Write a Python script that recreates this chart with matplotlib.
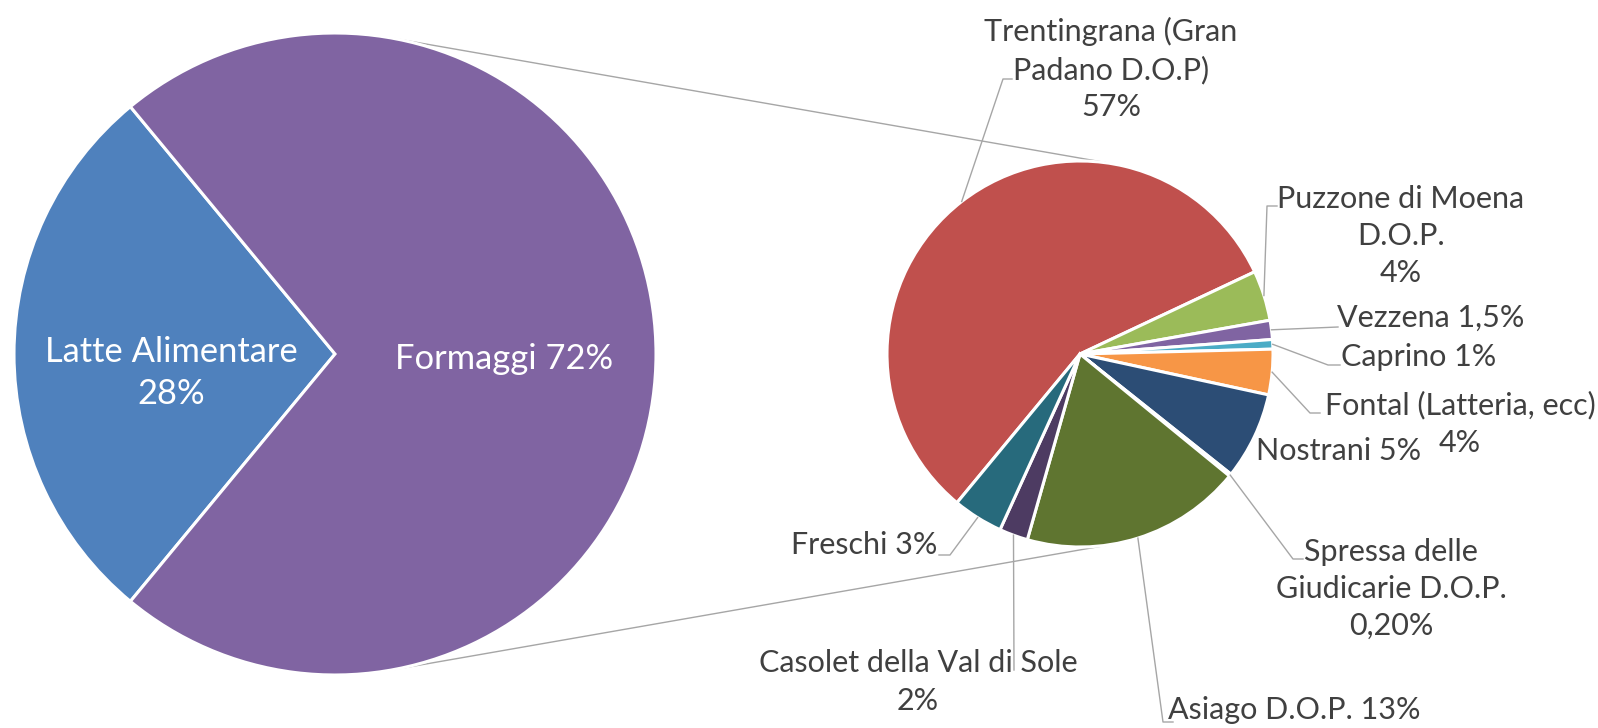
import matplotlib.pyplot as plt
import numpy as np

plt.rcParams['font.family'] = ['Lato', 'DejaVu Sans']

W, H = 1598, 728

# main pie
main_labels = ['Latte Alimentare\n28%', 'Formaggi 72%']
main_values = [28, 72]
main_colors = ['#4F81BD', '#8064A2']

# secondary pie (split of "Formaggi")
sub_labels = ['Trentingrana (Gran\nPadano D.O.P)\n57%',
              'Puzzone di Moena\nD.O.P.\n4%',
              'Vezzena 1,5%',
              'Caprino 1%',
              'Fontal (Latteria, ecc)\n4%',
              'Nostrani 5%',
              'Spressa delle\nGiudicarie D.O.P.\n0,20%',
              'Asiago D.O.P. 13%',
              'Casolet della Val di Sole\n2%',
              'Freschi 3%']
sub_values = [57, 4.2, 1.6, 0.8, 3.8, 7.3, 0.2, 18.5, 2.4, 4.2]
sub_colors = ['#C0504D', '#9BBB59', '#8064A2', '#4BACC6', '#F79646',
              '#2C4D75', '#772C2A', '#5F7530', '#4D3B62', '#276A7C']

# layout, in image pixels (origin top-left)
c1, r1 = (335, 354), 321
c2, r2 = (1080, 354), 193
main_label_pos = [(171, 373), (504, 359)]
sub_label_pos = [(1111, 69), (1401, 236), (1431, 318), (1419, 357), (1460, 424),
                 (1339, 451), (1391, 589), (1294, 710), (918, 682), (864, 545)]
sub_leaders = [[(1003, 79), (1012, 79)],
               [(1267, 206), (1277, 206)],
               [(1338, 327)],
               [(1328, 365), (1340, 365)],
               [(1310, 413), (1320, 413)],
               [],
               [(1293, 559), (1303, 559)],
               [(1163, 722), (1173, 722)],
               [(1014, 670)],
               [(950, 555), (939, 555)]]


def flip(p):
    return (p[0], H - p[1])


fig = plt.figure(figsize=(W / 100, H / 100), dpi=100)
ax = fig.add_axes([0, 0, 1, 1])

start = 180 + main_values[0] / sum(main_values) * 180
ax.pie(main_values, colors=main_colors, startangle=start, counterclock=False,
       center=flip(c1), radius=r1, wedgeprops=dict(edgecolor='white', linewidth=2.2))
wedges, _ = ax.pie(sub_values, colors=sub_colors, startangle=start, counterclock=False,
                   center=flip(c2), radius=r2,
                   wedgeprops=dict(edgecolor='white', linewidth=2.2))

# connector lines = external tangents of the two circles
cx1, cy1 = flip(c1)
cx2, cy2 = flip(c2)
d = cx2 - cx1
nx = (r1 - r2) / d
ny = np.sqrt(1 - nx ** 2)
for s in (1, -1):
    p1 = (cx1 + r1 * nx, cy1 + s * r1 * ny)
    p2 = (cx2 + r2 * nx, cy2 + s * r2 * ny)
    ax.plot([p1[0], p2[0]], [p1[1], p2[1]], color='#A6A6A6', lw=1.0, zorder=0)

for lab, pos in zip(main_labels, main_label_pos):
    x, y = flip(pos)
    ax.text(x, y, lab, color='white', fontsize=24.8, ha='center', va='center',
            linespacing=1.4)

for w, lab, pos, leader in zip(wedges, sub_labels, sub_label_pos, sub_leaders):
    x, y = flip(pos)
    ax.text(x, y, lab, color='#404040', fontsize=22, ha='center', va='center',
            linespacing=1.4)
    if leader:
        mid = np.deg2rad((w.theta1 + w.theta2) / 2)
        pts = [(cx2 + r2 * np.cos(mid), cy2 + r2 * np.sin(mid))] + [flip(p) for p in leader]
        ax.plot([p[0] for p in pts], [p[1] for p in pts], color='#A6A6A6', lw=1.0)

ax.set_xlim(0, W)
ax.set_ylim(0, H)
ax.set_aspect('equal')
ax.axis('off')

fig.savefig('out.png', dpi=100)
